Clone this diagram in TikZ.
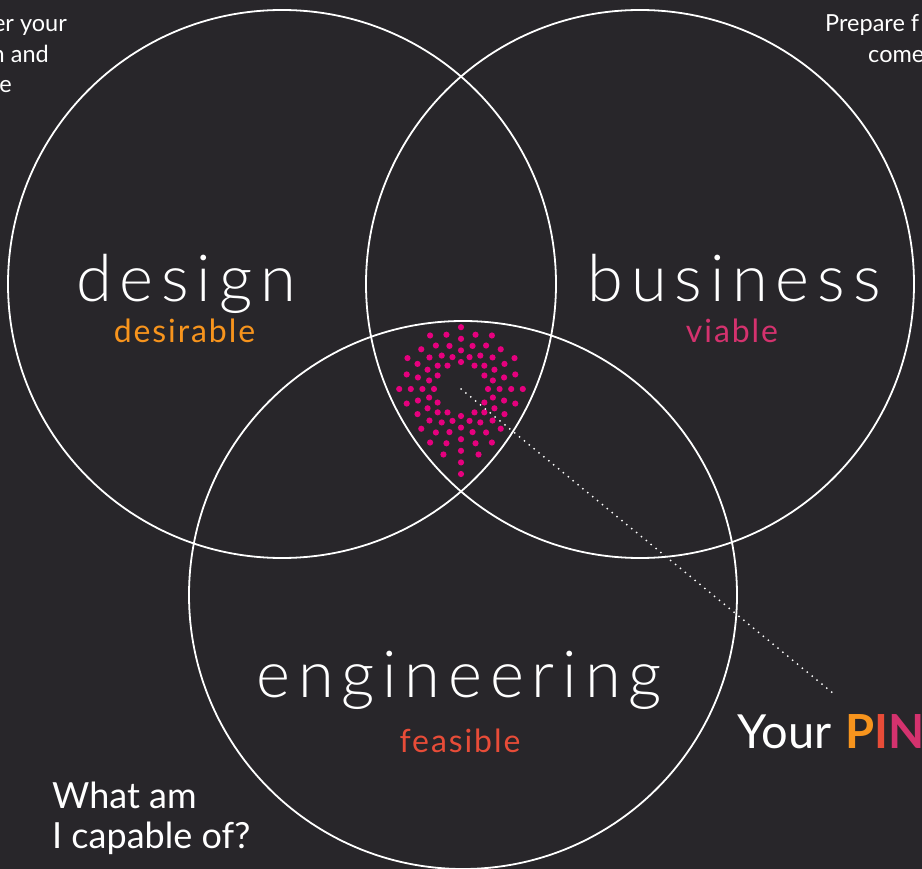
\documentclass[tikz,border=0pt]{standalone}
\usepackage{fontspec}
\setmainfont{Lato}
\newfontfamily\thinfont[LetterSpace=12]{Lato Light}
\newfontfamily\labelfont[LetterSpace=6]{Lato}
\usepackage{tikz}
\usetikzlibrary{positioning}
\definecolor{bgdark}{RGB}{40,38,42}
\definecolor{desorange}{RGB}{247,148,29}
\definecolor{viacrimson}{RGB}{212,50,110}
\definecolor{feasred}{RGB}{232,76,56}
\definecolor{dotpink}{RGB}{230,0,126}
\tikzset{ring/.style={draw=white, line width=1.8pt}}
\tikzset{bigword/.style={text=white, inner sep=0pt, anchor=base, font=\thinfont\fontsize{65}{65}\selectfont}}
\tikzset{subword/.style={inner sep=0pt, anchor=base, font=\labelfont\fontsize{32}{32}\selectfont}}
\tikzset{cornertext/.style={text=white, inner sep=0pt, font=\fontsize{23.5}{23.5}\selectfont}}
\tikzset{asktext/.style={text=white, inner sep=0pt, anchor=base west, font=\fontsize{36}{36}\selectfont}}
\tikzset{pinline/.style={draw=white, line width=2pt, line cap=round, dash pattern=on 0pt off 6.3pt}}

\begin{document}
\begin{tikzpicture}[x=1pt,y=-1pt]
\fill[bgdark] (0,0) rectangle (922,869);
\useasboundingbox (0,0) rectangle (922,869);
\clip (0,0) rectangle (922,869);

\coordinate (designc) at (282,284);
\coordinate (businessc) at (640,284);
\coordinate (engc) at (463,595);
\coordinate (ringc) at (461,389);
\coordinate (pinend) at (834,694);

\draw[ring] (designc) circle (274pt);
\draw[ring] (businessc) circle (274pt);
\draw[ring] (engc) circle (274pt);

% spokes of dots: a ring, with a tail running down into the lower point
\foreach \k in {0,...,23} {
\pgfmathsetmacro{\ang}{15*\k}
\pgfmathsetmacro{\rzero}{mod(\k,2)==1 ? 33 : 27}
\pgfmathsetmacro{\rmax}{abs(\ang-180)<16 ? 200 : 64}
\foreach \j in {0,...,6} {
\pgfmathsetmacro{\rr}{\rzero+11.6*\j}
\pgfmathsetmacro{\px}{461-\rr*sin(\ang)}
\pgfmathsetmacro{\py}{389-\rr*cos(\ang)}
\pgfmathsetmacro{\ok}{(\rr<\rmax)*(veclen((\px-282)/100,(\py-284)/100)<2.685)*(veclen((\px-640)/100,(\py-284)/100)<2.685)*(veclen((\px-463)/100,(\py-595)/100)<2.685)}
\ifdim\ok pt>0.5pt
\fill[dotpink] (\px,\py) circle (3.1pt);
\fi
}
}

\node[bigword] (design) at (186,302) {design};
\node[subword, text=desorange] (desirable) at (184.5,343) {desirable};
\node[bigword] (business) at (734,302) {business};
\node[subword, text=viacrimson] (viable) at (732,343) {viable};
\node[bigword] (engineering) at (459,697) {engineering};
\node[subword, text=feasred] (feasible) at (460,752) {feasible};

\node[cornertext, anchor=base east] (leftone) at (67,32) {er your};
\node[cornertext, anchor=base east] (lefttwo) at (49,63) {n and};
\node[cornertext, anchor=base east] (leftthree) at (12,93) {e};
\node[cornertext, anchor=base west] (rightone) at (825,32) {Prepare f};
\node[cornertext, anchor=base west] (righttwo) at (868,63) {come};

\node[asktext] (askone) at (52,808) {What am};
\node[asktext] (asktwo) at (52,848) {I capable of?};

\node[text=white, inner sep=0pt, anchor=base west, font=\fontsize{47}{47}\selectfont] (yourpin) at (737,748)
{Your\hspace{0.3em}\textbf{\textcolor{desorange}{P}\textcolor{feasred}{I}\textcolor{viacrimson}{N}}};

\draw[pinline] (ringc) -- (pinend);
\end{tikzpicture}
\end{document}
